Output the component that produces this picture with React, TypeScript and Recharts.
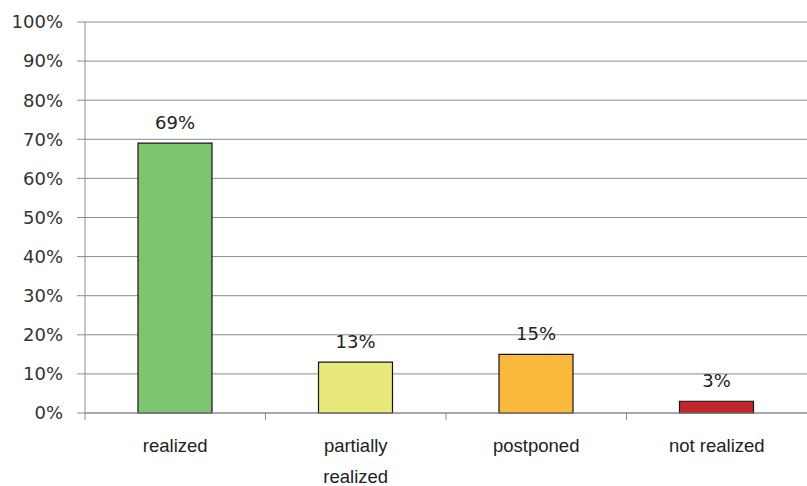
import React from 'react';
import { BarChart, Bar, XAxis, YAxis, CartesianGrid, Cell, LabelList } from 'recharts';

const categories = ['realized', 'partially\nrealized', 'postponed', 'not realized'];
const values = [69, 13, 15, 3];
const colors = ['#7DC66F', '#E8E87B', '#FBB93B', '#C1272D'];
const yTicks = [0, 10, 20, 30, 40, 50, 60, 70, 80, 90, 100];

const data = categories.map((name, i) => ({ name, value: values[i] }));

const GRID = '#8c8c8c';

// category label, plus the small tick mark at the left edge of its band
const CatTick = (props: any) => {
  const { x, y, payload } = props;
  const lines: string[] = String(payload.value).split('\n');
  const half = payload.offset || 0;
  return (
    <g>
      <line x1={x - half} x2={x - half} y1={y} y2={y + 7} stroke={GRID} />
      {lines.map((ln, i) => (
        <text
          key={i}
          x={x}
          y={y + 39 + i * 31}
          textAnchor="middle"
          fill="#222"
          style={{ fontFamily: '"Liberation Sans", Arial, sans-serif', fontSize: 18.5 }}
        >
          {ln}
        </text>
      ))}
    </g>
  );
};

const App: React.FC = () => (
  <div style={{ position: 'absolute', left: 0, top: 0, background: '#fff' }}>
    <BarChart width={807} height={486} data={data} margin={{ top: 22, right: 0, left: 0, bottom: 0 }}>
      <CartesianGrid horizontal vertical={false} stroke={GRID} />
      <XAxis
        dataKey="name"
        height={73}
        axisLine={{ stroke: GRID }}
        tickLine={false}
        tickSize={0}
        tickMargin={0}
        tick={<CatTick />}
        interval={0}
      />
      <YAxis
        width={85}
        domain={[0, 100]}
        ticks={yTicks}
        interval={0}
        axisLine={{ stroke: GRID }}
        tickLine={{ stroke: GRID }}
        tickSize={8}
        tickMargin={14}
        tickFormatter={(v: number) => `${v}%`}
        tick={{ fill: '#333', fontSize: 18, fontFamily: '"DejaVu Sans", sans-serif' }}
      />
      <Bar dataKey="value" barSize={74} stroke="#151515" strokeWidth={1.2} isAnimationActive={false}>
        {data.map((d, i) => (
          <Cell key={d.name} fill={colors[i]} />
        ))}
        <LabelList
          dataKey="value"
          position="top"
          offset={14}
          formatter={(v: any) => `${v}%`}
          fill="#222"
          style={{ fontSize: 18, fontFamily: '"DejaVu Sans", sans-serif' }}
        />
      </Bar>
    </BarChart>
  </div>
);

export default App;
